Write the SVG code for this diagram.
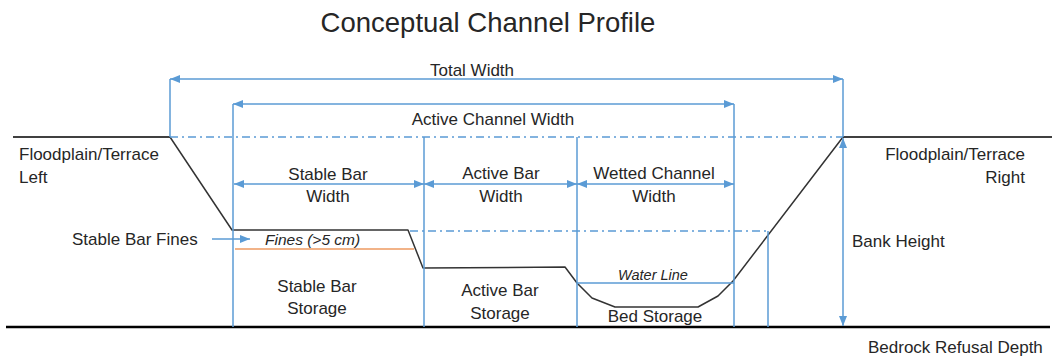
<svg xmlns="http://www.w3.org/2000/svg" width="1054" height="356" viewBox="0 0 1054 356">
<style>
text{font-family:"Liberation Sans",Arial,sans-serif;font-size:17px;fill:#262626}
.mid{text-anchor:middle}
.end{text-anchor:end}
.it{font-style:italic;font-size:14.5px}
.title{font-size:27.5px}
.blue{stroke:#5B9BD5;stroke-width:1.5;fill:none}
.dash{stroke:#5B9BD5;stroke-width:1.3;fill:none;stroke-dasharray:8 4 2 4}
.ground{stroke:#000;stroke-width:1.5;fill:none}
.prof{stroke:#333;stroke-width:1.5;fill:none;stroke-linejoin:round}
.arr{stroke:#5B9BD5;stroke-width:1.5;fill:none;marker-end:url(#ah);marker-start:url(#ah)}
.arr1{stroke:#5B9BD5;stroke-width:1.5;fill:none;marker-end:url(#ah)}
</style>
<defs>
<marker id="ah" viewBox="0 0 10 8" refX="10" refY="4" markerWidth="10" markerHeight="8" markerUnits="userSpaceOnUse" orient="auto-start-reverse">
<path d="M0,0 L10,4 L0,8 z" fill="#5B9BD5"/>
</marker>
</defs>
<rect width="1054" height="356" fill="#fff"/>
<g id="title"><text class="title mid" x="488" y="32">Conceptual Channel Profile</text></g>
<g id="ground">
<line class="ground" x1="13" y1="137" x2="170" y2="137"/>
<line class="ground" x1="843" y1="137" x2="1052" y2="137"/>
<line x1="6" y1="327" x2="1050" y2="327" stroke="#000" stroke-width="2.5"/>
<polyline class="prof" points="170,137 232,230 408,230 423,268 565,267 577,283 592,298 615,307 698,307 718,296 733,281 843,137"/>
<line x1="235" y1="249" x2="414" y2="249" stroke="#EE9A60" stroke-width="1.5"/>
</g>
<g id="connectors">
<line class="dash" x1="170" y1="137" x2="843" y2="137"/>
<line class="dash" x1="410" y1="231" x2="768" y2="231"/>
<line class="blue" x1="170" y1="79" x2="170" y2="137"/>
<line class="blue" x1="843" y1="79" x2="843" y2="137"/>
<line class="blue" x1="233" y1="104" x2="233" y2="327"/>
<line class="blue" x1="734" y1="104" x2="734" y2="327"/>
<line class="blue" x1="424" y1="137" x2="424" y2="327"/>
<line class="blue" x1="577" y1="137" x2="577" y2="327"/>
<line class="blue" x1="768" y1="231" x2="768" y2="327"/>
<line class="blue" x1="577" y1="283" x2="734" y2="283"/>
<line class="arr" x1="170" y1="79" x2="843" y2="79"/>
<line class="arr" x1="233" y1="104" x2="734" y2="104"/>
<line class="arr" x1="234" y1="184" x2="424" y2="184"/>
<line class="arr" x1="424" y1="184" x2="577" y2="184"/>
<line class="arr" x1="577" y1="184" x2="734" y2="184"/>
<line class="arr" x1="843" y1="138" x2="843" y2="326"/>
<line class="arr1" x1="212" y1="239" x2="250" y2="239"/>
</g>
<g id="floodplain-left"><text x="19" y="160">Floodplain/Terrace</text><text x="19" y="183">Left</text></g>
<g id="floodplain-right"><text class="end" x="1025" y="160">Floodplain/Terrace</text><text class="end" x="1025" y="183">Right</text></g>
<g id="total-width"><text class="mid" x="472" y="76">Total Width</text></g>
<g id="active-channel-width"><text class="mid" x="493" y="125">Active Channel Width</text></g>
<g id="stable-bar-width"><text class="mid" x="328" y="180">Stable Bar</text><text class="mid" x="328" y="202">Width</text></g>
<g id="active-bar-width"><text class="mid" x="501" y="179">Active Bar</text><text class="mid" x="501" y="202">Width</text></g>
<g id="wetted-channel-width"><text class="mid" x="654" y="179">Wetted Channel</text><text class="mid" x="654" y="202">Width</text></g>
<g id="stable-bar-fines"><text x="72" y="245">Stable Bar Fines</text></g>
<g id="fines"><text class="it" x="265" y="245" style="font-size:15.5px">Fines (&gt;5 cm)</text></g>
<g id="stable-bar-storage"><text class="mid" x="317" y="292">Stable Bar</text><text class="mid" x="317" y="314">Storage</text></g>
<g id="active-bar-storage"><text class="mid" x="500" y="296">Active Bar</text><text class="mid" x="500" y="319">Storage</text></g>
<g id="water-line"><text class="it mid" x="653" y="280">Water Line</text></g>
<g id="bed-storage"><text class="mid" x="655" y="322">Bed Storage</text></g>
<g id="bank-height"><text x="852" y="247">Bank Height</text></g>
<g id="bedrock"><text x="868" y="353">Bedrock Refusal Depth</text></g>
</svg>
